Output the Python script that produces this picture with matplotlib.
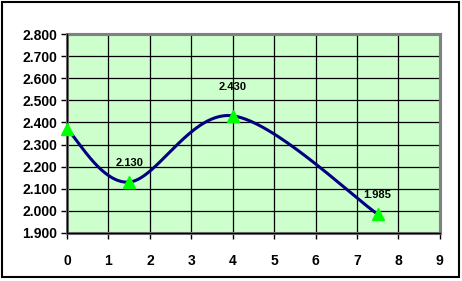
import numpy as np
import matplotlib
matplotlib.use("Agg")
import matplotlib.pyplot as plt
from matplotlib.patches import Rectangle

# --- dati ---
x_pts = [0.0, 1.5, 4.0, 7.5]
y_pts = [2.370, 2.130, 2.430, 1.985]
label_idx = [1, 2, 3]          # punti con etichetta
label_dy = [10, 17, 10]        # offset (pt) delle etichette
x_ticks = list(range(0, 10))
y_ticks = [1.9, 2.0, 2.1, 2.2, 2.3, 2.4, 2.5, 2.6, 2.7, 2.8]

# --- colori ---
C_BG = "#CCFFCC"
C_LINE = "#000080"
C_MARK = "#00FF00"
C_FRAME = "#808080"

plt.rcParams["font.family"] = ["Liberation Sans", "DejaVu Sans"]
plt.rcParams["font.weight"] = "bold"


def smooth(xs, ys, n=60):
    """Curva Catmull-Rom (tipo Excel) tra i punti."""
    P = np.column_stack([xs, ys])
    ext = np.vstack([P[0], P, P[-1]])
    out = []
    t = np.linspace(0, 1, n)[:, None]
    for i in range(len(P) - 1):
        p0, p3 = ext[i + 1], ext[i + 2]
        c1 = p0 + (ext[i + 2] - ext[i]) / 6
        c2 = p3 - (ext[i + 3] - ext[i + 1]) / 6
        seg = ((1 - t) ** 3) * p0 + 3 * (1 - t) ** 2 * t * c1 \
            + 3 * (1 - t) * t ** 2 * c2 + t ** 3 * p3
        out.append(seg)
    out = np.vstack(out)
    return out[:, 0], out[:, 1]


fig = plt.figure(figsize=(4.62, 2.81), dpi=100)
ax = fig.add_axes([0.145, 0.171, 0.807, 0.708])
ax.set_facecolor(C_BG)

sx, sy = smooth(x_pts, y_pts)
ax.plot(sx, sy, color=C_LINE, linewidth=2.2, zorder=3, solid_capstyle="round")
ax.plot(x_pts, y_pts, linestyle="none", marker="^", markersize=9,
        color=C_MARK, markeredgecolor=C_MARK, zorder=4, clip_on=False)

for i, dy in zip(label_idx, label_dy):
    ax.annotate(f"{y_pts[i]:.3f}", (x_pts[i], y_pts[i]), xytext=(0, dy),
                textcoords="offset points", ha="center", va="bottom",
                fontsize=8, fontweight="bold", zorder=5)

ax.set_xlim(0, 9)
ax.set_ylim(1.9, 2.8)
ax.set_xticks(x_ticks)
ax.set_yticks(y_ticks)
ax.set_yticklabels([f"{v:.3f}" for v in y_ticks])
ax.tick_params(axis="both", direction="out", length=4, width=1, labelsize=10)
ax.tick_params(axis="y", pad=3)
ax.tick_params(axis="x", pad=11)

ax.grid(True, color="black", linewidth=0.9, zorder=1)
ax.set_axisbelow(True)

for s in ["top", "right"]:
    ax.spines[s].set_color(C_FRAME)
    ax.spines[s].set_linewidth(2.2)
for s in ["left", "bottom"]:
    ax.spines[s].set_color("black")
    ax.spines[s].set_linewidth(1)
    ax.spines[s].set_zorder(3.5)

# bordo grigio dell'area del grafico
ax.add_patch(Rectangle((0, 0), 1, 1, transform=ax.transAxes, fill=False,
                       edgecolor=C_FRAME, linewidth=2.2, clip_on=False, zorder=2.5))

# bordo esterno
fig.add_artist(Rectangle((0.004, 0.013), 0.989, 0.981, transform=fig.transFigure,
                         fill=False, edgecolor="black", linewidth=1.5))

fig.savefig("out.png", dpi=100)
